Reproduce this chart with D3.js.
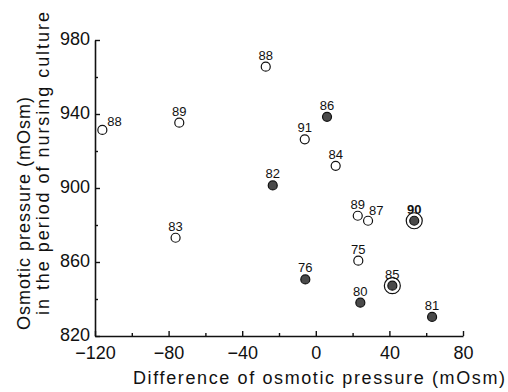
<!DOCTYPE html>
<html><head><meta charset="utf-8">
<script src="https://cdn.jsdelivr.net/npm/d3@7"></script>
<style>
body{margin:0;background:#fff;}
text{font-family:"Liberation Sans",Arial,sans-serif;fill:#111;}
</style></head>
<body><svg id="c" width="508" height="392"></svg>
<script>
// Data
const labels = ["88","89","88","86","91","84","82","83","89","87","90","75","76","85","80","81"];
const xValues = [-116,-74.2,-27.2,6.1,-6,10.8,-23.4,-76.2,22.8,28.4,53.5,23.1,-5.7,41.6,24.2,63.2];
const yValues = [931.4,935.3,965.6,938.5,926.3,912,901.4,873.1,885,882.3,882.3,860.7,850.6,847.2,838,830.3];
const filled  = [false,false,false,true,false,false,true,false,false,false,true,false,true,true,true,true];
const ringed  = [false,false,false,false,false,false,false,false,false,false,true,false,false,true,false,false];
const xTicks = [-120,-80,-40,0,40,80];
const yTicks = [820,860,900,940,980];
const xMinor = [-100,-60,-20,20,60];
const yMinor = [840,880,920,960];
const xTitle = "Difference of osmotic pressure (mOsm)";
const yTitle1 = "Osmotic pressure (mOsm)";
const yTitle2 = "in the period of nursing culture";

// label placement (style config)
const labelPlace = {0:"right",9:"upright"};

const svg = d3.select("#c");
const x = d3.scaleLinear().domain([-120,80]).range([95,463]);
const y = d3.scaleLinear().domain([820,980]).range([336,40]);

const fmt = d => String(d).replace("-","\u2212");

// axes
svg.append("g").attr("transform","translate(0,336)")
  .call(d3.axisBottom(x).tickValues(xTicks).tickFormat(fmt).tickSizeInner(-5).tickSizeOuter(0).tickPadding(10));
svg.append("g").attr("transform","translate(0,336)")
  .call(d3.axisBottom(x).tickValues(xMinor).tickFormat("").tickSizeInner(-3).tickSizeOuter(0))
  .select(".domain").remove();
const gy = svg.append("g").attr("transform","translate(95,0)")
  .call(d3.axisLeft(y).tickValues(yTicks).tickFormat(d=>d).tickSizeInner(-5).tickSizeOuter(0).tickPadding(5));
gy.selectAll(".tick text").attr("dy","0.26em");
svg.append("g").attr("transform","translate(95,0)")
  .call(d3.axisLeft(y).tickValues(yMinor).tickFormat("").tickSizeInner(-3).tickSizeOuter(0))
  .select(".domain").remove();
svg.selectAll(".domain").attr("stroke","#111").attr("stroke-width",1.6);
svg.selectAll(".tick line").attr("stroke","#111").attr("stroke-width",1.4);
svg.selectAll(".tick text").attr("font-size",18).attr("fill","#111").attr("font-family","Liberation Sans, Arial, sans-serif");

// titles
svg.append("text").attr("x",133).attr("y",384).attr("font-size",18)
  .attr("textLength",372).attr("lengthAdjust","spacing").text(xTitle);
svg.append("text").attr("transform","translate(30,330) rotate(-90)").attr("font-size",18)
  .attr("textLength",233).attr("lengthAdjust","spacing").text(yTitle1);
svg.append("text").attr("transform","translate(49,315) rotate(-90)").attr("font-size",18)
  .attr("textLength",303).attr("lengthAdjust","spacing").text(yTitle2);

// points
const data = labels.map((l,i)=>({l, x:xValues[i], y:yValues[i], f:filled[i], r:ringed[i], i}));
const g = svg.append("g");
g.selectAll("circle.ring").data(data.filter(d=>d.r)).join("circle")
  .attr("cx",d=>x(d.x)).attr("cy",d=>y(d.y)).attr("r",8)
  .attr("fill","none").attr("stroke","#111").attr("stroke-width",1.2);
g.selectAll("circle.pt").data(data).join("circle")
  .attr("cx",d=>x(d.x)).attr("cy",d=>y(d.y)).attr("r",4.5)
  .attr("fill",d=>d.f?"#4a4a4a":"#fff").attr("stroke","#111").attr("stroke-width",1.2);
g.selectAll("text.lbl").data(data).join("text")
  .attr("font-size",13)
  .attr("font-weight",d=>d.l==="90"?"bold":"normal")
  .attr("text-anchor",d=>labelPlace[d.i]?"start":"middle")
  .attr("x",d=>{const p=labelPlace[d.i]; const cx=x(d.x); return p==="right"?cx+5:p==="upright"?cx+1:cx;})
  .attr("y",d=>{const p=labelPlace[d.i]; const cy=y(d.y); return p==="right"?cy-4:p==="upright"?cy-6:cy-7;})
  .text(d=>d.l);
</script></body></html>
